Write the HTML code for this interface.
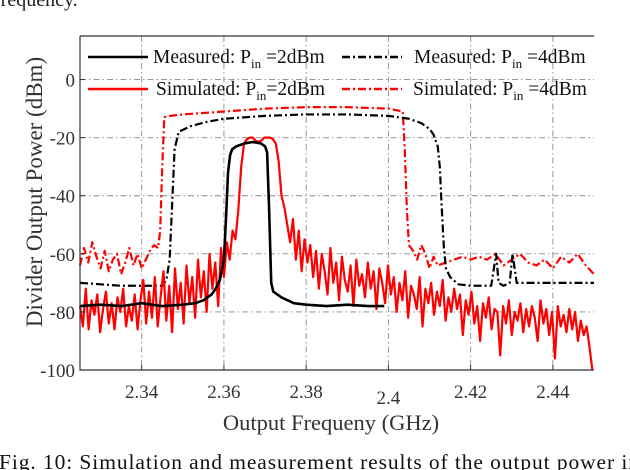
<!DOCTYPE html>
<html><head><meta charset="utf-8"><style>
html,body{margin:0;padding:0;background:#fff;}
svg{display:block;font-family:"Liberation Serif",serif;}
</style></head><body>
<svg id="chart" width="630" height="470" viewBox="0 0 630 470">
<text x="-6" y="6" font-size="20" fill="#222">frequency.</text>
<g id="grid"></g>
<g id="series"></g>
<g id="axes"></g>
<g id="legend"></g>
<text x="331" y="430" font-size="22.5" text-anchor="middle" fill="#333">Output Frequeny (GHz)</text>
<text transform="translate(42,192) rotate(-90)" font-size="23" text-anchor="middle" fill="#333">Divider Output Power (dBm)</text>
<text x="-1" y="469" font-size="21.5" fill="#111" textLength="640" lengthAdjust="spacing">Fig. 10: Simulation and measurement results of the output power in</text>
</svg>
<script>
const xTicks = [2.34, 2.36, 2.38, 2.4, 2.42, 2.44];
const xTickLabels = ["2.34", "2.36", "2.38", "2.4", "2.42", "2.44"];
const yTicks = [0, -20, -40, -60, -80, -100];
const yTickLabels = ["0", "-20", "-40", "-60", "-80", "-100"];

const meas2Freq = [2.325,2.33,2.335,2.34,2.345,2.35,2.353,2.355,2.357,2.358,2.359,2.360,2.3605,2.361,2.3615,2.362,2.363,2.365,2.367,2.369,2.370,2.3705,2.371,2.3715,2.372,2.374,2.377,2.38,2.385,2.39,2.395,2.399];
const meas2Power = [-78,-77.5,-78,-77,-78,-77.5,-77,-76,-74,-72,-69,-62,-48,-32,-26,-24,-23,-22,-21.5,-22,-23,-25,-45,-70,-73,-75,-77,-77.5,-78,-77.5,-78,-78];

const meas4Freq = [2.325,2.33,2.335,2.34,2.345,2.346,2.3468,2.3475,2.348,2.349,2.352,2.356,2.36,2.37,2.38,2.39,2.4,2.405,2.408,2.410,2.411,2.412,2.4125,2.413,2.4135,2.414,2.415,2.417,2.42,2.425,2.4262,2.4268,2.428,2.4295,2.4302,2.4312,2.433,2.44,2.45];
const meas4Power = [-70,-70.5,-71,-71,-71,-69,-62,-40,-24,-18,-16,-14.5,-13.5,-12.5,-12,-12,-12.5,-13.5,-15,-17,-19,-23,-30,-45,-58,-65,-68,-70.5,-71,-71,-60,-70,-71,-70,-60,-70,-70,-70,-70];

const sim4Freq = [2.325,2.326,2.327,2.328,2.329,2.330,2.331,2.332,2.333,2.334,2.335,2.336,2.337,2.338,2.339,2.340,2.341,2.342,2.343,2.344,2.3445,2.345,2.3455,2.347,2.35,2.355,2.36,2.37,2.38,2.39,2.40,2.4035,2.404,2.4045,2.405,2.406,2.407,2.408,2.409,2.410,2.411,2.412,2.414,2.416,2.418,2.420,2.422,2.424,2.426,2.428,2.430,2.432,2.434,2.436,2.438,2.440,2.442,2.444,2.446,2.448,2.45];
const sim4Power = [-64,-58,-63,-56,-61,-65,-59,-66,-62,-60,-67,-63,-58,-64,-60,-65,-62,-59,-57,-58,-52,-30,-13,-12.5,-12,-11.5,-11,-10,-9.5,-9.5,-10,-11,-25,-45,-57,-59,-62,-57,-60,-65,-61,-64,-63,-62,-61,-62,-61,-62,-60,-64,-62,-60,-63,-64,-62,-65,-61,-63,-60,-64,-67];

const sim2Start = 2.325;
const sim2Step = 0.0007;
const sim2Power = [
-78,-85,-72,-86,-76,-81,-74,-87,-79,-73,
-84,-77,-86,-75,-80,-72,-85,-78,-83,-74,
-86,-76,-69,-84,-73,-82,-68,-85,-75,-66,
-83,-71,-87,-65,-79,-70,-84,-64,-77,-68,
-82,-62,-75,-66,-80,-60,-72,-63,-78,-58,
-68,-56,-62,-52,-55,
-45,-30,-22,-20.5,-20,-20,-21,-21.5,-21,-20,-20,-20,-20.5,-22,-28,-40,-44,-50,-56,-48,-62,-52,-66,-55,-63,-57,
-68,-59,-72,-60,-66,-74,-58,-70,-63,-76,
-61,-69,-73,-64,-78,-62,-71,-67,-75,-63,
-72,-66,-79,-65,-70,-77,-64,-74,-68,-80,
-70,-76,-66,-82,-71,-74,-79,-68,-85,-72,
-77,-70,-81,-73,-78,-69,-83,-75,-80,-72,
-79,-74,-88,-76,-81,-73,-84,-78,-90,-77,
-82,-75,-86,-79,-80,-95,-78,-84,-76,-88,
-80,-83,-77,-87,-79,-85,-78,-82,-90,-76,
-84,-79,-88,-80,-96,-78,-85,-81,-87,-79,
-86,-80,-90,-83,-88,-85,-92,-100];

const X0 = 80, X1 = 594, Y0 = 36, Y1 = 370;
const xMin = 2.325, xMax = 2.45, yMin = -100, yMax = 15;
function sx(f){ return X0 + (f - xMin) / (xMax - xMin) * (X1 - X0); }
function sy(v){ return Y1 - (v - yMin) / (yMax - yMin) * (Y1 - Y0); }
const NS = "http://www.w3.org/2000/svg";
function mk(tag, attrs, parent){ const e = document.createElementNS(NS, tag); for (const k in attrs) e.setAttribute(k, attrs[k]); parent.appendChild(e); return e; }

const grid = document.getElementById('grid');
const axes = document.getElementById('axes');
const series = document.getElementById('series');
const legend = document.getElementById('legend');

xTicks.forEach((t, i) => {
  const gl = mk('line', {x1: sx(t), x2: sx(t), y1: Y0, y2: Y1, stroke: '#8a8a8a', 'stroke-width': 0.9, 'stroke-dasharray': '6 3 1.5 3'}, grid);
  
  
  const tk = mk('line', {x1: sx(t), x2: sx(t), y1: Y1, y2: Y1 - 5, stroke: '#333', 'stroke-width': 1}, axes);
  
  
  const lb = mk('text', {x: sx(t), y: xTickLabels[i] === '2.4' ? 404 : 398, 'font-size': 19, 'text-anchor': 'middle', fill: '#333'}, axes);
  lb.textContent = xTickLabels[i];
  
  
});
yTicks.forEach((t, i) => {
  if (t > yMin) {
    const gl = mk('line', {x1: X0, x2: X1, y1: sy(t), y2: sy(t), stroke: '#8a8a8a', 'stroke-width': 0.9, 'stroke-dasharray': '6 3 1.5 3'}, grid);
    
    
  }
  const tk = mk('line', {x1: X0, x2: X0 + 5, y1: sy(t), y2: sy(t), stroke: '#333', 'stroke-width': 1}, axes);
  
  
  const lb = mk('text', {x: X0 - 5, y: sy(t) + 7, 'font-size': 19, 'text-anchor': 'end', fill: '#333'}, axes);
  lb.textContent = yTickLabels[i];
  
  
});

function pathFrom(fs, vs){ return fs.map((f, i) => (i ? 'L' : 'M') + sx(f).toFixed(2) + ' ' + sy(vs[i]).toFixed(2)).join(' '); }
const sim2Freq = sim2Power.map((v, i) => sim2Start + i * sim2Step);

const pSim4 = mk('path', {d: pathFrom(sim4Freq, sim4Power), fill: 'none', stroke: '#ff0000', 'stroke-width': 2.2, 'stroke-dasharray': '8 3 2 3', 'stroke-linejoin': 'round'}, series);


const pMeas4 = mk('path', {d: pathFrom(meas4Freq, meas4Power), fill: 'none', stroke: '#000', 'stroke-width': 2.2, 'stroke-dasharray': '8 3 2 3', 'stroke-linejoin': 'round'}, series);


const pSim2 = mk('path', {d: pathFrom(sim2Freq, sim2Power), fill: 'none', stroke: '#ff0000', 'stroke-width': 2.2, 'stroke-linejoin': 'round'}, series);


const pMeas2 = mk('path', {d: pathFrom(meas2Freq, meas2Power), fill: 'none', stroke: '#000', 'stroke-width': 2.6, 'stroke-linejoin': 'round'}, series);



const frame = mk('path', {d: `M${X0} ${Y0} H${X1} M${X0} ${Y0} V${Y1} H${X1}`, fill: 'none', stroke: '#333', 'stroke-width': 1.2}, axes);



const legendItems = [
  {x: 88, y: 57, color: '#000', dash: null, label: 'Measured: P', sub: 'in', rest: ' =2dBm', tx: 153},
  {x: 342, y: 57, color: '#000', dash: '8 3 2 3', label: 'Measured: P', sub: 'in', rest: ' =4dBm', tx: 414},
  {x: 88, y: 89, color: '#ff0000', dash: null, label: 'Simulated: P', sub: 'in', rest: '=2dBm', tx: 156},
  {x: 342, y: 89, color: '#ff0000', dash: '8 3 2 3', label: 'Simulated: P', sub: 'in', rest: ' =4dBm', tx: 413}
];
legendItems.forEach(it => {
  const ln = mk('line', {x1: it.x, x2: it.x + 60, y1: it.y, y2: it.y, stroke: it.color, 'stroke-width': 2.4}, legend);
  if (it.dash) ln.setAttribute('stroke-dasharray', it.dash);
  
  
  const t = mk('text', {x: it.tx, y: it.y + 6, 'font-size': 19.5, fill: '#111'}, legend);
  
  
  const a = document.createElementNS(NS, 'tspan'); a.textContent = it.label; t.appendChild(a);
  const b = document.createElementNS(NS, 'tspan'); b.textContent = it.sub; b.setAttribute('font-size', 13); b.setAttribute('dy', 5); t.appendChild(b);
  const c = document.createElementNS(NS, 'tspan'); c.textContent = it.rest; c.setAttribute('dy', -5); t.appendChild(c);
});
</script>
</body></html>
